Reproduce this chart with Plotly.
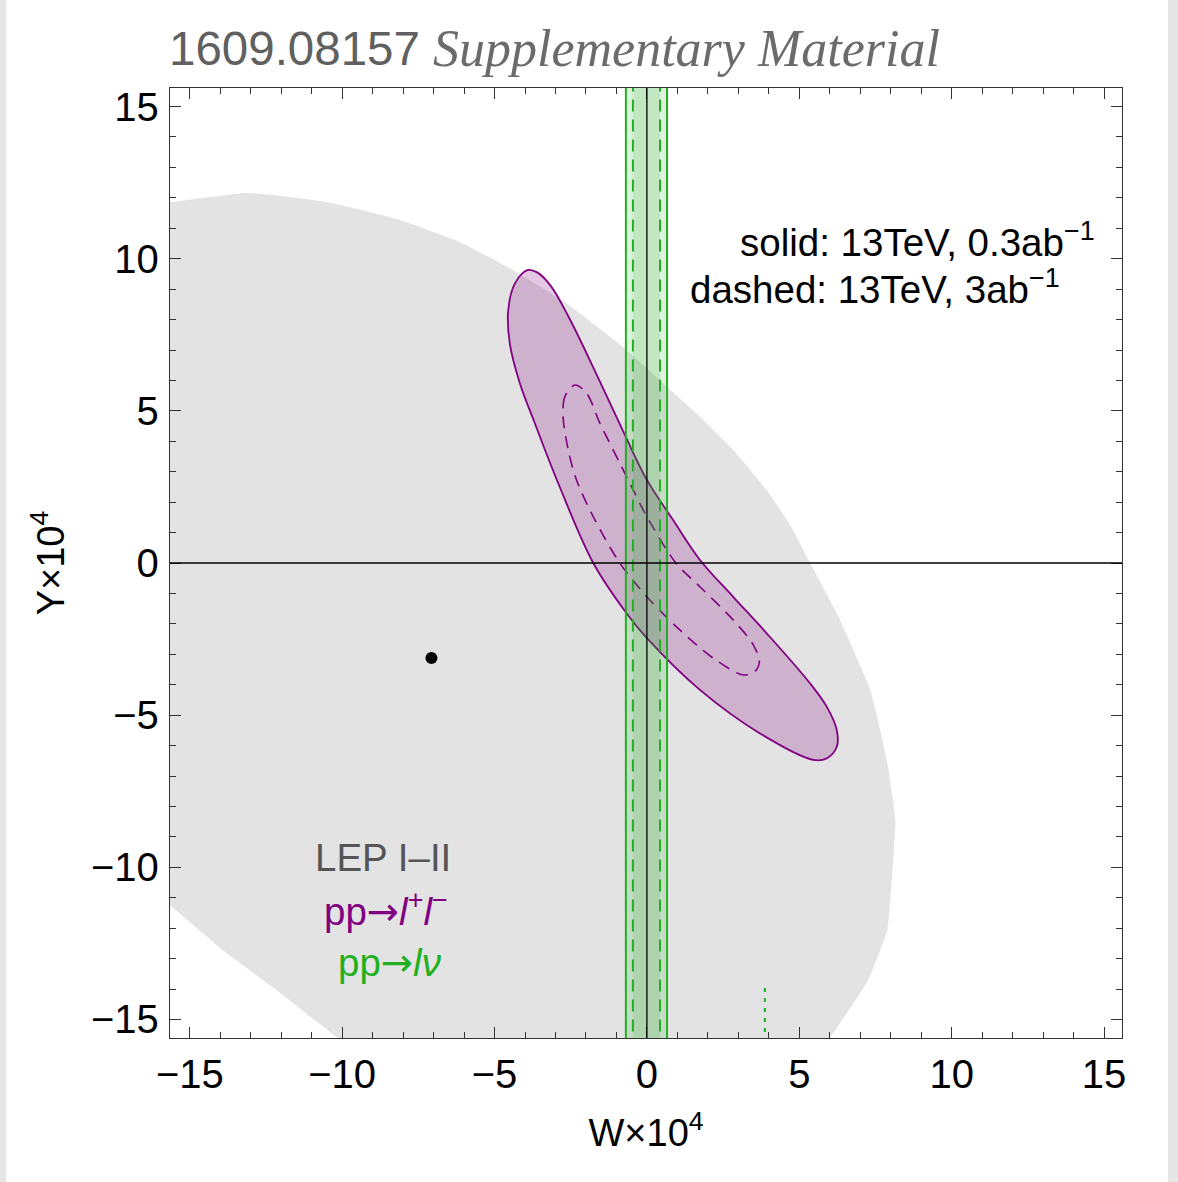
import plotly.graph_objects as go

# ---- Data (W and Y in units of 1e-4) ----
# LEP I-II allowed region (boundary polygon)
lep_w = [-16.5, -15.6, -13.1, -10.5, -8.1, -6.15, -4.4, -2.6, -0.67, 0.65, 1.74, 2.83, 3.93,
         4.7, 5.36, 6.34, 7.33, 7.89, 8.15, 7.99, 7.89, 7.26, 6.01, 5.62, -9.4, -10.19, -12.16,
         -13.8, -15.6, -16.5]
lep_y = [11.75, 11.86, 12.16, 11.86, 11.27, 10.55, 9.63, 8.5, 7.0, 5.8, 4.81, 3.71, 2.40,
         1.25, 0.0, -1.87, -4.17, -6.57, -8.45, -11.07, -12.06, -13.70, -15.61, -16.2, -16.2,
         -15.58, -14.03, -12.82, -11.3, -10.7]

# pp -> l+ l-, 13 TeV, 0.3 ab^-1 (solid contour)
ll_03_w = [-3.90, -4.33, -4.55, -4.50, -4.17, -3.70, -2.91, -1.76, -0.67, 0.0, 1.74, 3.71,
           5.46, 5.90, 6.23, 6.23, 5.90, 5.35, 3.93, 2.83, 1.74, 0.86, 0.0, -0.72, -1.70,
           -2.55, -3.15, -3.60, -3.90]
ll_03_y = [9.63, 9.19, 8.31, 7.22, 5.91, 4.65, 2.62, 0.0, -1.65, -2.47, -4.17, -5.60,
           -6.47, -6.42, -6.04, -5.49, -4.72, -3.95, -2.31, -1.11, 0.10, 1.41, 2.73, 4.20,
           6.30, 8.05, 9.10, 9.55, 9.63]

# pp -> l+ l-, 13 TeV, 3 ab^-1 (dashed contour)
ll_3_w = [-2.36, -2.69, -2.75, -2.58, -2.31, -1.76, -0.89, 0.0, 1.08, 2.18, 3.16, 3.54, 3.69,
          3.49, 2.83, 1.74, 0.95, 0.0, -0.45, -0.89, -1.54, -1.98, -2.36]
ll_3_y = [5.85, 5.47, 4.81, 3.71, 2.73, 1.52, 0.0, -1.11, -2.20, -3.13, -3.68, -3.57, -3.24,
          -2.69, -1.87, -0.78, 0.0, 1.52, 2.40, 3.28, 4.59, 5.58, 5.85]

# pp -> l nu bands on W (Y unconstrained)
lnu_03 = [-0.69, 0.66]   # 0.3 ab^-1
lnu_3 = [-0.46, 0.43]    # 3 ab^-1
lnu_stub_w = [3.87, 3.87]
lnu_stub_y = [-13.97, -16.5]

# best-fit point
best_w = [-7.07]
best_y = [-3.12]

XR = [-15.65, 15.59]
YR = [-15.61, 15.61]
YSPAN = [-20, 20]

PURPLE = "#800080"
GREEN = "#22b022"
SANS = "Liberation Sans, Arial, sans-serif"
SERIF = "Liberation Serif, Times New Roman, serif"
ARROW = '<span style="font-family:DejaVu Sans">→</span>'

fig = go.Figure()

fig.add_trace(go.Scatter(x=lep_w, y=lep_y, mode="lines", fill="toself",
                         fillcolor="#e3e3e3",
                         line=dict(width=0, shape="spline", smoothing=0.4),
                         hoverinfo="skip"))

fig.add_trace(go.Scatter(x=ll_03_w, y=ll_03_y, mode="lines", fill="toself",
                         fillcolor="rgba(128,0,128,0.22)",
                         line=dict(color=PURPLE, width=1.8, shape="spline", smoothing=1.0)))
fig.add_trace(go.Scatter(x=ll_3_w, y=ll_3_y, mode="lines",
                         line=dict(color=PURPLE, width=1.6, dash="12px,8px",
                                   shape="spline", smoothing=0.9)))


def band(lo_hi):
    lo, hi = lo_hi
    return [lo, hi, hi, lo, lo], [YSPAN[0], YSPAN[0], YSPAN[1], YSPAN[1], YSPAN[0]]


bx, by = band(lnu_03)
fig.add_trace(go.Scatter(x=bx, y=by, mode="lines", fill="toself",
                         fillcolor="rgba(34,176,34,0.15)", line=dict(width=0)))
bx, by = band(lnu_3)
fig.add_trace(go.Scatter(x=bx, y=by, mode="lines", fill="toself",
                         fillcolor="rgba(34,176,34,0.15)", line=dict(width=0)))
for w in lnu_03:
    fig.add_trace(go.Scatter(x=[w, w], y=YSPAN, mode="lines",
                             line=dict(color=GREEN, width=2)))
for w in lnu_3:
    fig.add_trace(go.Scatter(x=[w, w], y=YSPAN, mode="lines",
                             line=dict(color=GREEN, width=2, dash="12px,8px")))
fig.add_trace(go.Scatter(x=lnu_stub_w, y=lnu_stub_y, mode="lines",
                         line=dict(color=GREEN, width=2, dash="4px,6px")))

fig.add_trace(go.Scatter(x=best_w, y=best_y, mode="markers",
                         marker=dict(color="black", size=12)))

# axes through the origin
fig.add_shape(type="line", xref="x", yref="paper", x0=0, x1=0, y0=0, y1=1,
              line=dict(color="black", width=1.3), layer="above")
fig.add_shape(type="line", xref="paper", yref="y", x0=0, x1=1, y0=0, y1=0,
              line=dict(color="black", width=1.3), layer="above")

# page edge stripes
fig.add_shape(type="rect", xref="paper", yref="paper", x0=-0.1786, x1=-0.172,
              y0=-0.16, y1=1.1, fillcolor="#e6e6e6", line=dict(width=0), layer="below")
fig.add_shape(type="rect", xref="paper", yref="paper", x0=1.0483, x1=1.06,
              y0=-0.16, y1=1.1, fillcolor="#e6e6e6", line=dict(width=0), layer="below")

axis_common = dict(
    showline=True, linecolor="#333", linewidth=1.3, mirror="allticks",
    ticks="inside", ticklen=11, tickwidth=1.2, tickcolor="#333",
    dtick=5, tick0=0, showgrid=False, zeroline=False,
    minor=dict(dtick=1, ticks="inside", ticklen=6, tickwidth=1.1, tickcolor="#333",
               showgrid=False),
    tickfont=dict(family=SANS, size=40, color="black"),
)

fig.update_layout(
    width=1178, height=1182,
    margin=dict(l=170, r=56, t=88, b=144),
    paper_bgcolor="white", plot_bgcolor="white",
    showlegend=False,
    xaxis=dict(range=XR, ticklabelstandoff=1,
               title=dict(text="W×10<sup>4</sup>", standoff=24,
                          font=dict(family=SANS, size=38, color="black")),
               **axis_common),
    yaxis=dict(range=YR, ticklabelstandoff=2,
               title=dict(text="Y×10<sup>4</sup>", standoff=14,
                          font=dict(family=SANS, size=38, color="black")),
               **axis_common),
)

# header
fig.add_annotation(xref="paper", yref="paper", x=-0.003, y=(1038 - 49) / 950,
                   text="1609.08157", showarrow=False, xanchor="left", yanchor="middle",
                   font=dict(family=SANS, size=47.5, color="#606060"))
fig.add_annotation(xref="paper", yref="paper", x=(431 - 170) / 952, y=(1038 - 49) / 950,
                   text="<i>Supplementary Material</i>", showarrow=False,
                   xanchor="left", yanchor="middle",
                   font=dict(family=SERIF, size=52, color="#6b6b6b"))

# luminosity key
fig.add_annotation(x=3.0, y=10.61, text="solid: 13TeV, 0.3ab<sup>−1</sup>", showarrow=False,
                   xanchor="left", yanchor="middle",
                   font=dict(family=SANS, size=38.5, color="black"))
fig.add_annotation(x=1.36, y=9.07, text="dashed: 13TeV, 3ab<sup>−1</sup>", showarrow=False,
                   xanchor="left", yanchor="middle",
                   font=dict(family=SANS, size=38.5, color="black"))

# region labels
fig.add_annotation(x=-8.65, y=-9.69, text="LEP I–II", showarrow=False,
                   font=dict(family=SANS, size=38.5, color="#555555"))
fig.add_annotation(x=-8.55, y=-11.4,
                   text="pp" + ARROW + "<i>l</i><sup>+</sup><i>l</i><sup>−</sup>",
                   showarrow=False, font=dict(family=SANS, size=38.5, color=PURPLE))
fig.add_annotation(x=-8.45, y=-13.14, text="pp" + ARROW + "<i>lν</i>", showarrow=False,
                   font=dict(family=SANS, size=38.5, color=GREEN))

fig.write_html("out.html")
